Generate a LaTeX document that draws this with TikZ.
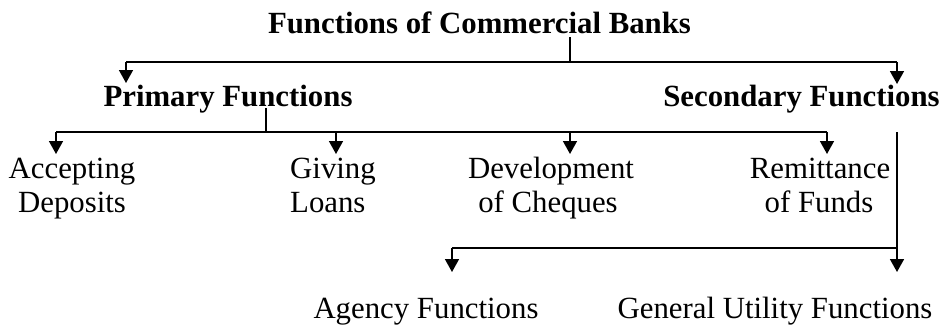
\documentclass[tikz,border=0pt]{standalone}
\usepackage{fontspec}
\setmainfont{Liberation Serif}
\usetikzlibrary{arrows.meta}
\begin{document}
\begin{tikzpicture}[x=1pt,y=-1pt,
  conn/.style={line width=1.6pt},
  arr/.style={conn,-{Triangle[width=14pt,length=13pt]}},
  head/.style={font=\fontsize{30.8}{34}\selectfont\bfseries,inner sep=0pt,anchor=base},
  leaf/.style={font=\fontsize{30.8}{34}\selectfont,inner sep=0pt,anchor=base}]
\useasboundingbox (0,0) rectangle (945,327);
% texts
\node[head] (root) at (479.5,33) {Functions of Commercial Banks};
\node[head] (prim) at (228,106) {Primary Functions};
\node[head] (sec) at (801.5,106) {Secondary Functions};
\node[leaf] (acc1) at (72,178) {Accepting};
\node[leaf] (acc2) at (72,212) {Deposits};
\node[leaf,anchor=base west] (giv1) at (290,178) {Giving};
\node[leaf,anchor=base west] (giv2) at (290,212) {Loans};
\node[leaf] (dev1) at (551,178) {Development};
\node[leaf] (dev2) at (548,212) {of Cheques};
\node[leaf] (rem1) at (820,178) {Remittance};
\node[leaf] (rem2) at (819,212) {of Funds};
\node[leaf] (agy) at (426,318) {Agency Functions};
\node[leaf] (gen) at (775,318) {General Utility Functions};
% connector points
\coordinate (r0) at (570,37);
\coordinate (r1) at (570,62);
\coordinate (rl) at (126,62);
\coordinate (rr) at (897,62);
\coordinate (tp) at (126,83);
\coordinate (ts) at (897,84);
\coordinate (p0) at (266,108);
\coordinate (p1) at (266,132);
\coordinate (pa) at (56,132);
\coordinate (pb) at (336,132);
\coordinate (pc) at (570,132);
\coordinate (pd) at (827,132);
\coordinate (ta) at (56,154);
\coordinate (tb) at (336,154);
\coordinate (tc) at (570,154);
\coordinate (td) at (827,154);
\coordinate (s0) at (897,132);
\coordinate (s1) at (897,248);
\coordinate (sl) at (452,248);
\coordinate (tg) at (452,272);
\coordinate (tu) at (897,272);
% connectors
\draw[conn] (r0) -- (r1);
\draw[conn] (rl) -- (rr);
\draw[arr] (rl) -- (tp);
\draw[arr] (rr) -- (ts);
\draw[conn] (p0) -- (p1);
\draw[conn] (pa) -- (pd);
\draw[arr] (pa) -- (ta);
\draw[arr] (pb) -- (tb);
\draw[arr] (pc) -- (tc);
\draw[arr] (pd) -- (td);
\draw[conn] (s0) -- (s1);
\draw[conn] (sl) -- (s1);
\draw[arr] (sl) -- (tg);
\draw[arr] (s1) -- (tu);
\end{tikzpicture}
\end{document}
